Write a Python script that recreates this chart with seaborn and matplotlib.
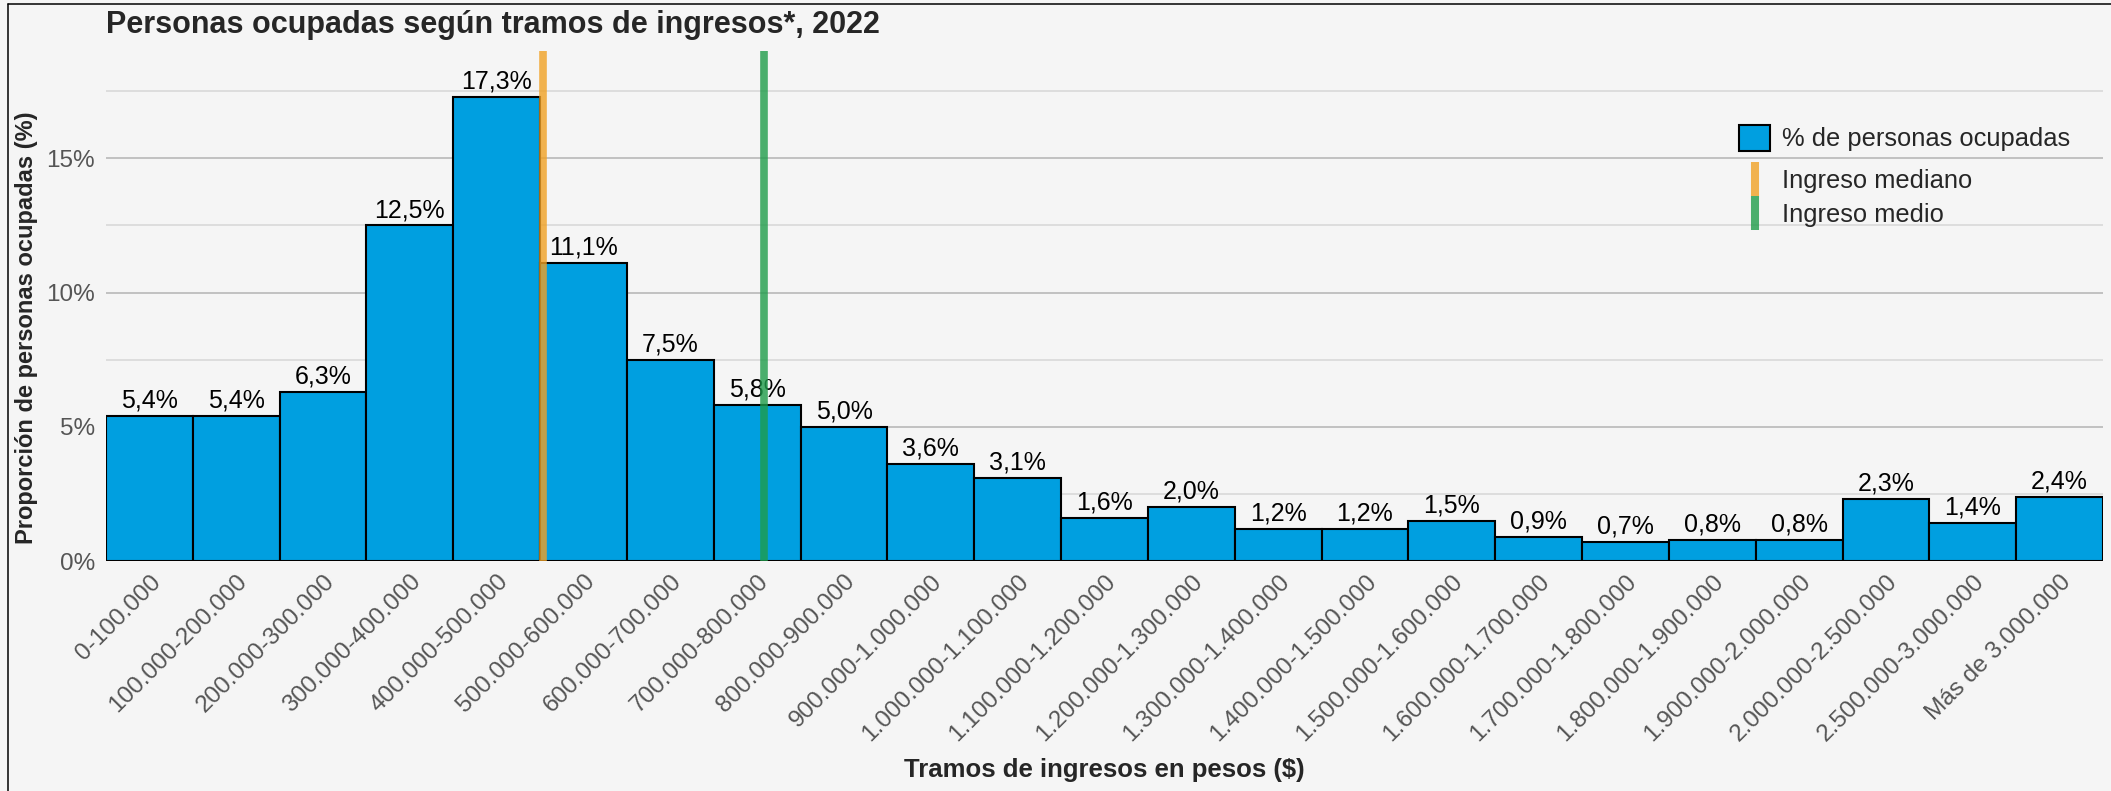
import matplotlib
matplotlib.use("Agg")
import matplotlib.pyplot as plt
from matplotlib.patches import Patch
from matplotlib.lines import Line2D
from matplotlib.ticker import MultipleLocator, FuncFormatter
import seaborn as sns

# ===============================
# DATA
# ===============================
tramos = [
    "0-100.000", "100.000-200.000", "200.000-300.000", "300.000-400.000",
    "400.000-500.000", "500.000-600.000", "600.000-700.000", "700.000-800.000",
    "800.000-900.000", "900.000-1.000.000", "1.000.000-1.100.000",
    "1.100.000-1.200.000", "1.200.000-1.300.000", "1.300.000-1.400.000",
    "1.400.000-1.500.000", "1.500.000-1.600.000", "1.600.000-1.700.000",
    "1.700.000-1.800.000", "1.800.000-1.900.000", "1.900.000-2.000.000",
    "2.000.000-2.500.000", "2.500.000-3.000.000", "Más de 3.000.000",
]
porcentaje = [5.4, 5.4, 6.3, 12.5, 17.3, 11.1, 7.5, 5.8, 5.0, 3.6, 3.1,
              1.6, 2.0, 1.2, 1.2, 1.5, 0.9, 0.7, 0.8, 0.8, 2.3, 1.4, 2.4]
ingreso_mediano = 503000
ingreso_medio = 758000

# ===============================
# STYLE
# ===============================
W, H = 2111, 791
BG = "#F5F5F5"
BLUE = "#009FE0"
ORANGE = "#F1A124"
GREEN = "#1F9C4A"

sns.set_style("whitegrid")
plt.rcParams["font.family"] = ["Liberation Sans", "DejaVu Sans"]

fig = plt.figure(figsize=(W / 100, H / 100), dpi=100, facecolor=BG)
ax = fig.add_axes([106 / W, 1 - 561 / H, (2103 - 106) / W, (561 - 51) / H])
ax.set_facecolor(BG)

sns.barplot(x=tramos, y=porcentaje, color=BLUE, saturation=1,
            edgecolor="black", linewidth=1.5, width=1.0, ax=ax, zorder=2)

labels = [f"{v:.1f}%".replace(".", ",") for v in porcentaje]
ax.bar_label(ax.containers[0], labels=labels, padding=2.5, fontsize=18,
             color="black")

# vertical reference lines (income -> category position)
for val, col in [(ingreso_mediano, ORANGE), (ingreso_medio, GREEN)]:
    ax.axvline(val / 100000 - 0.5, color=col, alpha=0.8, lw=5.5, zorder=3)

ax.set_xlim(-0.5, len(tramos) - 0.5)
ax.set_ylim(0, 19.0)

ax.yaxis.set_major_locator(MultipleLocator(5))
ax.yaxis.set_minor_locator(MultipleLocator(2.5))
ax.yaxis.set_major_formatter(FuncFormatter(lambda v, p: f"{v:.0f}%"))
ax.yaxis.grid(True, which="major", color="#BDBDBD", lw=1.3)
ax.yaxis.grid(True, which="minor", color="#D6D6D6", lw=1.1)
ax.xaxis.grid(False)
ax.set_axisbelow(True)
for s in ax.spines.values():
    s.set_visible(False)

ax.tick_params(axis="y", which="both", length=0, pad=8, labelsize=17.5,
               labelcolor="#555555")
ax.tick_params(axis="x", length=0, pad=7, labelsize=17.5, labelcolor="#555555")
for lab in ax.get_xticklabels():
    lab.set_rotation(45)
    lab.set_ha("right")
    lab.set_va("top")
    lab.set_rotation_mode("anchor")

ax.set_xlabel("Tramos de ingresos en pesos ($)", fontsize=18.5,
              fontweight="bold", va="center")
ax.xaxis.set_label_coords(0.5, (561 - 770) / 510)
ax.set_ylabel("Proporción de personas ocupadas (%)", fontsize=17,
              fontweight="bold", va="center")
ax.yaxis.set_label_coords((27 - 106) / 1997, (561 - 328) / 510)

fig.text(106 / W, 1 - 33 / H, "Personas ocupadas según tramos de ingresos*, 2022",
         fontsize=22, fontweight="bold", ha="left", va="baseline")

# legends
leg1 = ax.legend(handles=[Patch(facecolor=BLUE, edgecolor="black", lw=1.5)],
                 labels=["% de personas ocupadas"], fontsize=18.4,
                 loc="center left", bbox_to_anchor=(1739 / W, 1 - 138 / H),
                 bbox_transform=fig.transFigure, frameon=False, borderpad=0,
                 borderaxespad=0, handlelength=1.22, handleheight=1.2,
                 handletextpad=0.47)
ax.add_artist(leg1)
line_handles = [
    Line2D([], [], color=ORANGE, alpha=0.8, marker="|", linestyle="None",
           markersize=24.5, markeredgewidth=5.8),
    Line2D([], [], color=GREEN, alpha=0.8, marker="|", linestyle="None",
           markersize=24.5, markeredgewidth=5.8),
]
ax.legend(handles=line_handles, labels=["Ingreso mediano", "Ingreso medio"],
          fontsize=18.4, loc="center left", bbox_to_anchor=(1739 / W, 1 - 198 / H),
          bbox_transform=fig.transFigure, frameon=False, borderpad=0,
          borderaxespad=0, handlelength=1.22, handletextpad=0.47,
          labelspacing=0.36)

# outer border (left and top only visible)
fig.add_artist(Line2D([7.5 / W, 7.5 / W], [0, 1 - 3.5 / H], color="black",
                      lw=1.1, transform=fig.transFigure))
fig.add_artist(Line2D([7.5 / W, 1], [1 - 3.5 / H, 1 - 3.5 / H], color="black",
                      lw=1.1, transform=fig.transFigure))

fig.savefig("out.png", dpi=100, facecolor=BG)
